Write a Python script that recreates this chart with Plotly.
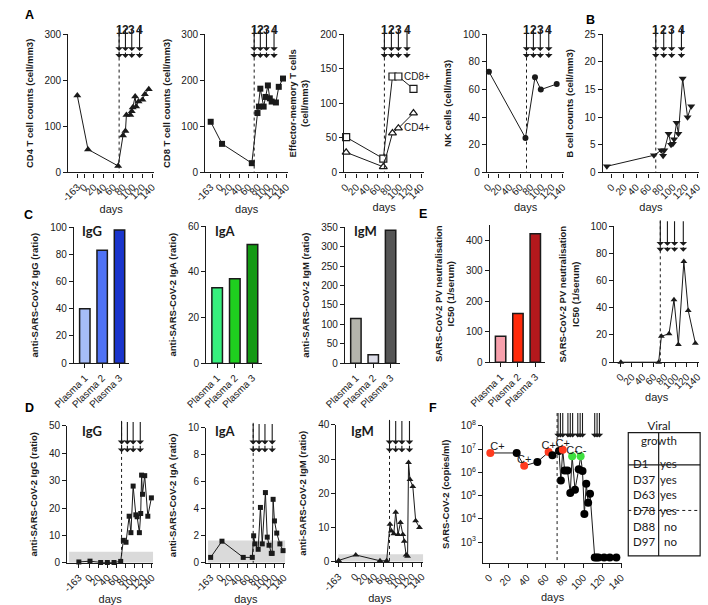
import plotly.graph_objects as go

W, H = 708, 605

# ---------------- data ----------------
PLASMA_DAYS = [72, 85, 98, 114]          # plasma infusions 1-4
PLASMA_LABELS = ['1', '2', '3', '4']
F_PLASMA_DAYS = [73, 75.5, 78, 83.5, 86, 88.5, 94, 96.5, 99, 112, 114.5, 117]
DAY_TICKS = [0, 20, 40, 60, 80, 100, 120, 140]

CD4_DAYS = [-163, 8, 70, 80, 85, 87, 95, 98, 100, 105, 107, 112, 120, 125, 133]
CD4_COUNTS = [167, 50, 14, 80, 90, 125, 125, 133, 141, 165, 143, 154, 158, 170, 181]

CD8_DAYS = [-163, 4, 67, 79, 82, 85, 92, 96, 101, 105, 109, 118, 124, 133]
CD8_COUNTS = [110, 62, 20, 129, 143, 182, 143, 164, 189, 161, 154, 152, 186, 204]

EM_DAYS = [1, 70, 87, 98, 126]
EM_CD8 = [51, 20, 139, 139, 121]
EM_CD4 = [29, 8, 57, 64, 86]

NK_DAYS = [1, 70, 88, 99, 129]
NK_COUNTS = [73, 25, 69, 60, 64]

B_DAYS = [-8, 69, 81, 84, 86, 93, 97, 100, 102, 106, 109, 116, 124, 130]
B_COUNTS = [1.1, 3.1, 4, 3, 4, 7, 5, 5.2, 6, 9, 7, 17, 10, 12]

PLASMA_UNITS = ['Plasma 1', 'Plasma 2', 'Plasma 3']
PLASMA_IGG = [40, 83, 98]
PLASMA_IGA = [33, 37, 52]
PLASMA_IGM = [115, 22, 342]
PLASMA_NEUT = [85, 160, 422]

NEUT_DAYS = [0, 69, 74, 88, 97, 105, 115, 123, 136]
NEUT_IC50 = [0, 0, 19, 21, 46, 13, 74, 38, 14]

IGG_DAYS = [-163, 1, 25, 40, 55, 70, 76, 82, 89, 93, 98, 104, 107, 112, 115, 117, 119, 124, 131, 139]
IGG_RATIO = [0.3, 0.6, 0.1, 0.1, 0.1, 0.5, 8.2, 7.5, 17, 11, 28, 17.5, 16.8, 11, 18, 32, 25, 31.8, 17, 23.7]
IGG_CUTOFF = 4

IGA_DAYS = [-163, 3, 50, 70, 73, 76, 83, 88, 92, 99, 103, 107, 112, 114, 116, 119, 124, 131, 138]
IGA_RATIO = [0.4, 1.6, 0.4, 0.4, 2.0, 1.4, 1.0, 4.1, 1.4, 5.2, 1.9, 1.3, 0.7, 0.7, 4.7, 3.1, 2.2, 1.4, 0.9]
IGA_CUTOFF = 1.65

IGM_DAYS = [-163, 1, 52, 66, 73, 76, 81, 85, 90, 95, 100, 103, 107, 110, 112, 115, 121, 127, 135]
IGM_RATIO = [0.4, 2.0, 0.3, 0.3, 11, 9, 8.2, 14.5, 8, 11.5, 8, 6, 2, 1.6, 29, 24, 22, 12, 10]
IGM_CUTOFF = 2.2

F_DAYS = [1, 29, 37, 51, 63, 67, 74, 76, 78, 80, 83, 86, 88, 91, 95, 97, 99, 101, 103, 105, 107,
          112, 114, 116, 122, 128, 135]
F_COPIES = [6.8e6, 6.8e6, 1.9e6, 2.8e6, 7.4e6, 5.4e6, 8.3e6, 4.4e5, 9.4e6, 1.2e6, 1.2e6, 1.3e5,
            4.9e6, 1.8e5, 1.35e6, 4.9e6, 1.15e6, 1.6e4, 3.2e5, 4.9e4, 1.2e5,
            220, 220, 220, 220, 220, 220]
F_LOD = 1e3
CULTURE_DAYS = [1, 37, 63, 78, 88, 97]
CULTURE_RESULT = ['C+', 'C+', 'C+', 'C+', 'C-', 'C-']

TABLE_SAMPLES = ['D1', 'D37', 'D63', 'D78', 'D88', 'D97']
TABLE_GROWTH = ['yes', 'yes', 'yes', 'yes', 'no', 'no']

# ---------------- helpers ----------------
INK = '#1a1a1a'
FONT = 'Liberation Sans, Arial, sans-serif'
fig = go.Figure()
shapes, annotations = [], []
layout_axes = {}

AX = dict(showline=True, linecolor=INK, linewidth=1.4, ticks='outside', ticklen=4,
          tickwidth=1.4, tickcolor=INK, showgrid=False, zeroline=False,
          tickfont=dict(size=10, color=INK, family=FONT))


def py(p):
    return 1 - p / H


def ref(n):
    return ('x', 'y') if n == 1 else (f'x{n}', f'y{n}')


def add_axes(n, x0, x1, ytop, ybot, xkw, ykw):
    xn = 'xaxis' if n == 1 else f'xaxis{n}'
    yn = 'yaxis' if n == 1 else f'yaxis{n}'
    xr, yr = ref(n)
    xa = dict(AX)
    xa.update(domain=[x0 / W, x1 / W], anchor=yr)
    xa.update(xkw)
    ya = dict(AX)
    ya.update(domain=[py(ybot), py(ytop)], anchor=xr)
    ya.update(ykw)
    layout_axes[xn] = xa
    layout_axes[yn] = ya


def ytitle(text, standoff=9):
    return dict(text=text, font=dict(size=9.5, family=FONT, weight='bold', color=INK), standoff=standoff)


def days_axis(rng, neg=None):
    vals = list(DAY_TICKS)
    txt = [str(t) for t in DAY_TICKS]
    if neg is not None:
        vals = [neg] + vals
        txt = ['-163'] + txt
    return dict(range=rng, tickmode='array', tickvals=vals, ticktext=txt, tickangle=-45,
                title=dict(text='days', font=dict(size=11, family=FONT, color=INK), standoff=2))


def xpos(days, neg):
    return [neg if d == -163 else d for d in days]


def line_trace(n, x, y, symbol, size=7, open_=False):
    xr, yr = ref(n)
    mk = dict(symbol=symbol, size=size, color='white' if open_ else INK,
              line=dict(color=INK, width=1.2 if open_ else 0))
    fig.add_trace(go.Scatter(x=x, y=y, xaxis=xr, yaxis=yr, mode='lines+markers',
                             line=dict(color=INK, width=1), marker=mk, cliponaxis=False,
                             showlegend=False, hoverinfo='skip'))


def plasma_marks(n, days, top, bottom, heads, labels=None, label_y=None, dotted=True):
    xr, _ = ref(n)
    if dotted:
        shapes.append(dict(type='line', xref=xr, yref='paper', x0=days[0], x1=days[0],
                           y0=py(top), y1=py(bottom), line=dict(color=INK, width=1, dash='dot')))
    for i, d in enumerate(days):
        prev = top
        for h in heads:
            annotations.append(dict(x=d, y=py(h), xref=xr, yref='paper', ax=0, ay=-(h - prev),
                                    axref='pixel', ayref='pixel', showarrow=True, arrowhead=1,
                                    arrowsize=1.15, arrowwidth=1.1, arrowcolor=INK, text=''))
            prev = h
        if labels:
            annotations.append(dict(x=d, y=py(label_y), xref=xr, yref='paper', showarrow=False,
                                    text=f'<b>{labels[i]}</b>',
                                    font=dict(size=12, family=FONT, color=INK)))


def panel_letter(txt, x, y):
    annotations.append(dict(x=x / W, y=py(y), xref='paper', yref='paper', showarrow=False,
                            text=f'<b>{txt}</b>', xanchor='left', yanchor='middle',
                            font=dict(size=12.5, family=FONT, color='black')))


def inner_title(txt, x, y):
    annotations.append(dict(x=x / W, y=py(y), xref='paper', yref='paper', showarrow=False,
                            text=f'<b>{txt}</b>', xanchor='left', yanchor='middle',
                            font=dict(size=13, family='Lato, Open Sans, sans-serif', color=INK)))


def bar_panel(n, x0, x1, ytop, ybot, values, colors, yrange, dtick, title):
    xr, yr = ref(n)
    fig.add_trace(go.Bar(x=PLASMA_UNITS, y=values, xaxis=xr, yaxis=yr, width=0.6,
                         marker=dict(color=colors, line=dict(color=INK, width=1.5)),
                         showlegend=False, hoverinfo='skip'))
    add_axes(n, x0, x1, ytop, ybot,
             dict(type='category', range=[-0.62, 2.55], tickangle=-45),
             dict(range=yrange, dtick=dtick, title=ytitle(title)))


# ---------------- row A / B ----------------
ARROW_A = dict(top=21, bottom=169, heads=[45, 52])

add_axes(1, 49, 138, 28, 169, days_axis([-32.6, 144], -14),
         dict(range=[0, 300], dtick=100, title=ytitle('CD4 T cell counts (cell/mm3)')))
line_trace(1, xpos(CD4_DAYS, -14), CD4_COUNTS, 'triangle-up', 7)
plasma_marks(1, PLASMA_DAYS, ARROW_A['top'], ARROW_A['bottom'], ARROW_A['heads'], PLASMA_LABELS, 14)

add_axes(2, 191, 277, 28, 169, days_axis([-31.5, 144], -20),
         dict(range=[0, 300], dtick=100, title=ytitle('CD8 T cell counts (cell/mm3)')))
line_trace(2, xpos(CD8_DAYS, -20), CD8_COUNTS, 'square', 6)
plasma_marks(2, PLASMA_DAYS, ARROW_A['top'], ARROW_A['bottom'], ARROW_A['heads'], PLASMA_LABELS, 14)

add_axes(3, 335, 418, 28, 169, days_axis([-2.7, 146]),
         dict(range=[0, 200], dtick=50, title=ytitle('Effector-memory T cells<br>(cell/mm3)')))
line_trace(3, EM_DAYS, EM_CD8, 'square', 7, open_=True)
line_trace(3, EM_DAYS, EM_CD4, 'triangle-up', 7, open_=True)
plasma_marks(3, PLASMA_DAYS, ARROW_A['top'], ARROW_A['bottom'], ARROW_A['heads'], PLASMA_LABELS, 14)
annotations.append(dict(x=132, y=139, xref='x3', yref='y3', text='CD8+', showarrow=False,
                        xanchor='center', font=dict(size=10, family=FONT, color=INK)))
annotations.append(dict(x=132, y=65, xref='x3', yref='y3', text='CD4+', showarrow=False,
                        xanchor='center', font=dict(size=10, family=FONT, color=INK)))

add_axes(4, 483, 563, 28, 169, days_axis([-2.7, 143]),
         dict(range=[0, 100], dtick=20, title=ytitle('NK cells (cell/mm3)')))
line_trace(4, NK_DAYS, NK_COUNTS, 'circle', 6)
plasma_marks(4, PLASMA_DAYS, ARROW_A['top'], ARROW_A['bottom'], ARROW_A['heads'], PLASMA_LABELS, 14)

add_axes(5, 603, 703, 28, 169, days_axis([-14.8, 143]),
         dict(range=[0, 25], dtick=5, title=ytitle('B cell counts (cell/mm3)')))
line_trace(5, B_DAYS, B_COUNTS, 'triangle-down', 7)
plasma_marks(5, PLASMA_DAYS, ARROW_A['top'], ARROW_A['bottom'], ARROW_A['heads'], PLASMA_LABELS, 14)

# ---------------- row C / E ----------------
bar_panel(6, 55, 112, 225, 364, PLASMA_IGG, ['#a6bdf7', '#4f72f5', '#1a35cc'], [0, 100], 20,
          'anti-SARS-CoV-2 IgG (ratio)')
bar_panel(7, 192, 250, 224, 364, PLASMA_IGA, ['#37f07e', '#1fcf1f', '#139913'], [0, 60], 20,
          'anti-SARS-CoV-2 IgA (ratio)')
bar_panel(8, 336, 393, 225, 364, PLASMA_IGM, ['#b4b4ac', '#dddde8', '#555555'], [0, 350], 50,
          'anti-SARS-CoV-2 IgM (ratio)')
bar_panel(9, 486, 543, 223, 363, PLASMA_NEUT, ['#f7a0ac', '#ff2a0a', '#b4181c'], [0, 450], 100,
          'SARS-CoV-2 PV neutralisation<br>IC50 (1/serum)')
inner_title('IgG', 61, 229)
inner_title('IgA', 199, 229)
inner_title('IgM', 343, 229)

add_axes(10, 615, 703, 224, 363, days_axis([-12, 143]),
         dict(range=[0, 100], dtick=20, title=ytitle('SARS-CoV-2 PV neutralisation<br>IC50 (1/serum)')))
line_trace(10, NEUT_DAYS, NEUT_IC50, 'triangle-up', 6)
plasma_marks(10, PLASMA_DAYS, 218, 363, [244, 250])

# ---------------- row D ----------------
def d_panel(n, x0, x1, ytop, ybot, xr_, neg, days, vals, cutoff, yrange, dtick, title, symbol, size):
    xr, yr = ref(n)
    add_axes(n, x0, x1, ytop, ybot, days_axis(xr_, neg),
             dict(range=yrange, dtick=dtick, title=ytitle(title)))
    shapes.append(dict(type='rect', xref=xr, yref=yr, x0=xr_[0] + 4, x1=xr_[1], y0=0, y1=cutoff,
                       fillcolor='#dadada', line=dict(width=0), layer='below'))
    line_trace(n, xpos(days, neg), vals, symbol, size)
    plasma_marks(n, PLASMA_DAYS, ytop - 5, ybot, [447, 455])


d_panel(11, 48, 137, 428, 568, [-50, 143], -24, IGG_DAYS, IGG_RATIO, IGG_CUTOFF, [0, 50], 10,
        'anti-SARS-CoV-2 IgG (ratio)', 'square', 5)
d_panel(12, 192, 274, 430, 568, [-31.8, 143], -22, IGA_DAYS, IGA_RATIO, IGA_CUTOFF, [0, 10], 2,
        'anti-SARS-CoV-2 IgA (ratio)', 'square', 5)
d_panel(13, 327, 417, 427, 567, [-39.6, 143], -35, IGM_DAYS, IGM_RATIO, IGM_CUTOFF, [0, 40], 10,
        'anti-SARS-CoV-2 IgM (ratio)', 'triangle-up', 6)
inner_title('IgG', 61, 433)
inner_title('IgA', 199, 433)
inner_title('IgM', 340, 433)

# ---------------- panel F ----------------
F_YR = [2.11, 8]
add_axes(14, 479, 623, 428, 568, days_axis([-6.7, 141]),
         dict(type='log', range=F_YR, tickmode='array',
              tickvals=[1e3, 1e4, 1e5, 1e6, 1e7, 1e8],
              ticktext=[f'10<sup>{k}</sup>' for k in range(3, 9)],
              title=ytitle('SARS-CoV-2 (copies/ml)')))
shapes.append(dict(type='rect', xref='x14', yref='y14', x0=-1, x1=141, y0=F_YR[0], y1=3,
                   fillcolor='#dadada', line=dict(width=0), layer='below'))
colors = []
for d in F_DAYS:
    if d in CULTURE_DAYS:
        colors.append('#ff3b1f' if CULTURE_RESULT[CULTURE_DAYS.index(d)] == 'C+' else '#3fe03f')
    else:
        colors.append('black')
fig.add_trace(go.Scatter(x=F_DAYS, y=F_COPIES, xaxis='x14', yaxis='y14', mode='lines+markers',
                         line=dict(color=INK, width=1), marker=dict(size=8, color=colors),
                         cliponaxis=False, showlegend=False, hoverinfo='skip'))
cult_y = [F_COPIES[F_DAYS.index(d)] for d in CULTURE_DAYS]
fig.add_trace(go.Scatter(x=CULTURE_DAYS, y=cult_y, xaxis='x14', yaxis='y14', mode='text',
                         text=CULTURE_RESULT,
                         textposition=['top right', 'top center', 'top center', 'top center',
                                       'top center', 'top center'],
                         textfont=dict(size=11, family=FONT, color=INK),
                         cliponaxis=False, showlegend=False, hoverinfo='skip'))
shapes.append(dict(type='line', xref='x14', yref='paper', x0=PLASMA_DAYS[0], x1=PLASMA_DAYS[0],
                   y0=py(415), y1=py(568), line=dict(color=INK, width=1, dash='dot')))
plasma_marks(14, F_PLASMA_DAYS, 414, 568, [440], dotted=False)

# ---------------- table ----------------
TX0, TX1, TXM = 629.5, 704, 661
TY0, TY1, TYH = 435, 561, 468
shapes.append(dict(type='rect', xref='paper', yref='paper', x0=TX0 / W, x1=TX1 / W,
                   y0=py(TY1), y1=py(TY0), line=dict(color=INK, width=1.2)))
shapes.append(dict(type='line', xref='paper', yref='paper', x0=TXM / W, x1=TXM / W,
                   y0=py(TY1), y1=py(TY0), line=dict(color=INK, width=1.2)))
shapes.append(dict(type='line', xref='paper', yref='paper', x0=TX0 / W, x1=TX1 / W,
                   y0=py(TYH), y1=py(TYH), line=dict(color=INK, width=1.2)))
shapes.append(dict(type='line', xref='paper', yref='paper', x0=TX0 / W, x1=TX1 / W,
                   y0=py(514.5), y1=py(514.5), line=dict(color=INK, width=1, dash='dot')))
TFONT = dict(size=11.5, family='Lato, Open Sans, sans-serif', color=INK)
annotations.append(dict(x=(TXM + TX1) / 2 / W, y=py(451.5), xref='paper', yref='paper',
                        text='Viral<br>growth', showarrow=False, font=TFONT))
for i, (s, g) in enumerate(zip(TABLE_SAMPLES, TABLE_GROWTH)):
    yy = 475.5 + i * 15.9
    annotations.append(dict(x=(TX0 + 3) / W, y=py(yy), xref='paper', yref='paper', text=s,
                            showarrow=False, xanchor='left', font=TFONT))
    annotations.append(dict(x=(TXM + TX1) / 2 / W, y=py(yy), xref='paper', yref='paper', text=g,
                            showarrow=False, font=TFONT))

# ---------------- panel letters ----------------
panel_letter('A', 2, 8)
panel_letter('B', 584, 13)
panel_letter('C', 1, 213)
panel_letter('D', 2, 410)
panel_letter('E', 410, 212)
panel_letter('F', 421, 410)

fig.update_layout(width=W, height=H, margin=dict(l=0, r=0, t=0, b=0),
                  paper_bgcolor='white', plot_bgcolor='white', bargap=0.4,
                  font=dict(family=FONT, size=10, color=INK), showlegend=False,
                  shapes=shapes, annotations=annotations, **layout_axes)

fig.write_html("out.html", config={'displayModeBar': False},
               post_script="document.body.style.margin='0';")
